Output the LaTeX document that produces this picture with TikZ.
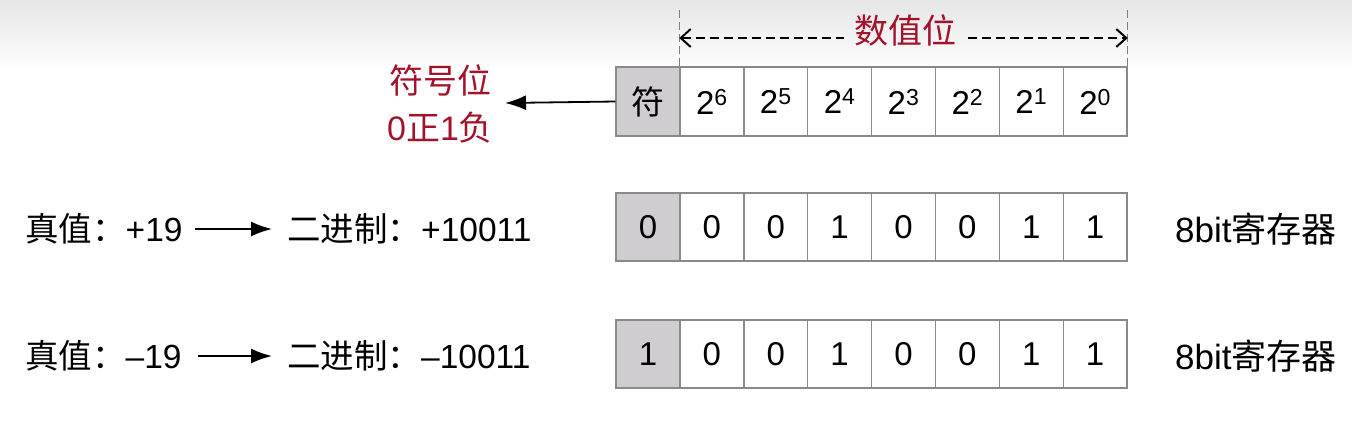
\documentclass[tikz,border=0pt]{standalone}
\usepackage{fontspec}
\setmainfont{Liberation Sans}
\newfontfamily\cjk{Noto Sans CJK SC}
\usetikzlibrary{arrows.meta}
\definecolor{signred}{HTML}{A3122B}
\definecolor{cellgray}{HTML}{CFCDD0}
\definecolor{bordergray}{HTML}{8A8A8A}
\tikzset{
  cell/.style={draw=bordergray, line width=1.4pt, minimum width=63.875pt, minimum height=68pt, inner sep=0pt, font=\fontsize{33}{36}\selectfont},
  signcell/.style={cell, fill=cellgray},
  label/.style={inner sep=0pt, anchor=west, font=\fontsize{33.5}{36}\selectfont},
  redlabel/.style={inner sep=0pt, text=signred, font=\fontsize{34}{37}\selectfont},
  guide/.style={dash pattern=on 8pt off 4pt, draw=gray, line width=1.1pt},
  dimline/.style={dash pattern=on 9pt off 5pt, line width=2pt},
  conn/.style={line width=1.8pt, -{Latex[length=21pt,width=15pt]}}
}
\begin{document}
\begin{tikzpicture}[x=1pt,y=-1pt]
\useasboundingbox (0,0) rectangle (1352,432);
\shade[top color=black!10, bottom color=white] (0,0) rectangle (1352,70);
% top register
\node[signcell, minimum height=69pt] (r1c0) at (648,101.5) {\cjk 符};
\foreach \i/\e in {1/6,2/5,3/4,4/3,5/2,6/1,7/0}{
  \node[cell, minimum height=69pt] (r1c\i) at ({648+63.875*\i},101.5) {2\textsuperscript{\e}};
}
% row 2
\foreach \i/\v in {0/0,1/0,2/0,3/1,4/0,5/0,6/1,7/1}{
  \ifnum\i=0
    \node[signcell] (r2c\i) at ({648+63.875*\i},227) {\v};
  \else
    \node[cell] (r2c\i) at ({648+63.875*\i},227) {\v};
  \fi
}
% row 3
\foreach \i/\v in {0/1,1/0,2/0,3/1,4/0,5/0,6/1,7/1}{
  \ifnum\i=0
    \node[signcell] (r3c\i) at ({648+63.875*\i},354) {\v};
  \else
    \node[cell] (r3c\i) at ({648+63.875*\i},354) {\v};
  \fi
}
% dimension guides
\coordinate (gl) at (r1c1.north west |- 0,8);
\coordinate (gr) at (r1c7.north east |- 0,8);
\draw[guide] (r1c1.north west) -- (gl);
\draw[guide] (r1c7.north east) -- (gr);
\node[redlabel] (sz) at (905,31) {\cjk 数值位};
\coordinate (dl) at (r1c1.north west |- 0,38);
\coordinate (dr) at (r1c7.north east |- 0,38);
\draw[dimline, {Straight Barb[length=10pt,width=18pt]}-] (dl) -- ([xshift=-10pt]sz.west |- dl);
\draw[dimline, -{Straight Barb[length=10pt,width=18pt]}] ([xshift=12pt]sz.east |- dr) -- (dr);
% sign label
\node[redlabel] (fh) at (440,80) {\cjk 符号位};
\node[redlabel] (zf) at (440,128) {0\cjk 正\rmfamily 1\cjk 负};
\coordinate (sa) at (505,103);
\draw[conn] (r1c0.west) -- (sa);
% row labels
\node[label] (t1) at (25,229) {{\cjk 真值：}+19};
\node[label] (b1) at (287,229) {{\cjk 二进制：}+10011};
\draw[conn, shorten <=12pt, shorten >=15pt] (t1.east) -- (b1.west);
\node[label, font=\fontsize{35}{38}\selectfont] (k1) at (1175,229) {8bit{\cjk 寄存器}};
\node[label] (t2) at (25,356) {{\cjk 真值：}–19};
\node[label] (b2) at (287,356) {{\cjk 二进制：}–10011};
\draw[conn, shorten <=16pt, shorten >=15pt] (t2.east) -- (b2.west);
\node[label, font=\fontsize{35}{38}\selectfont] (k2) at (1175,356) {8bit{\cjk 寄存器}};
\end{tikzpicture}
\end{document}
